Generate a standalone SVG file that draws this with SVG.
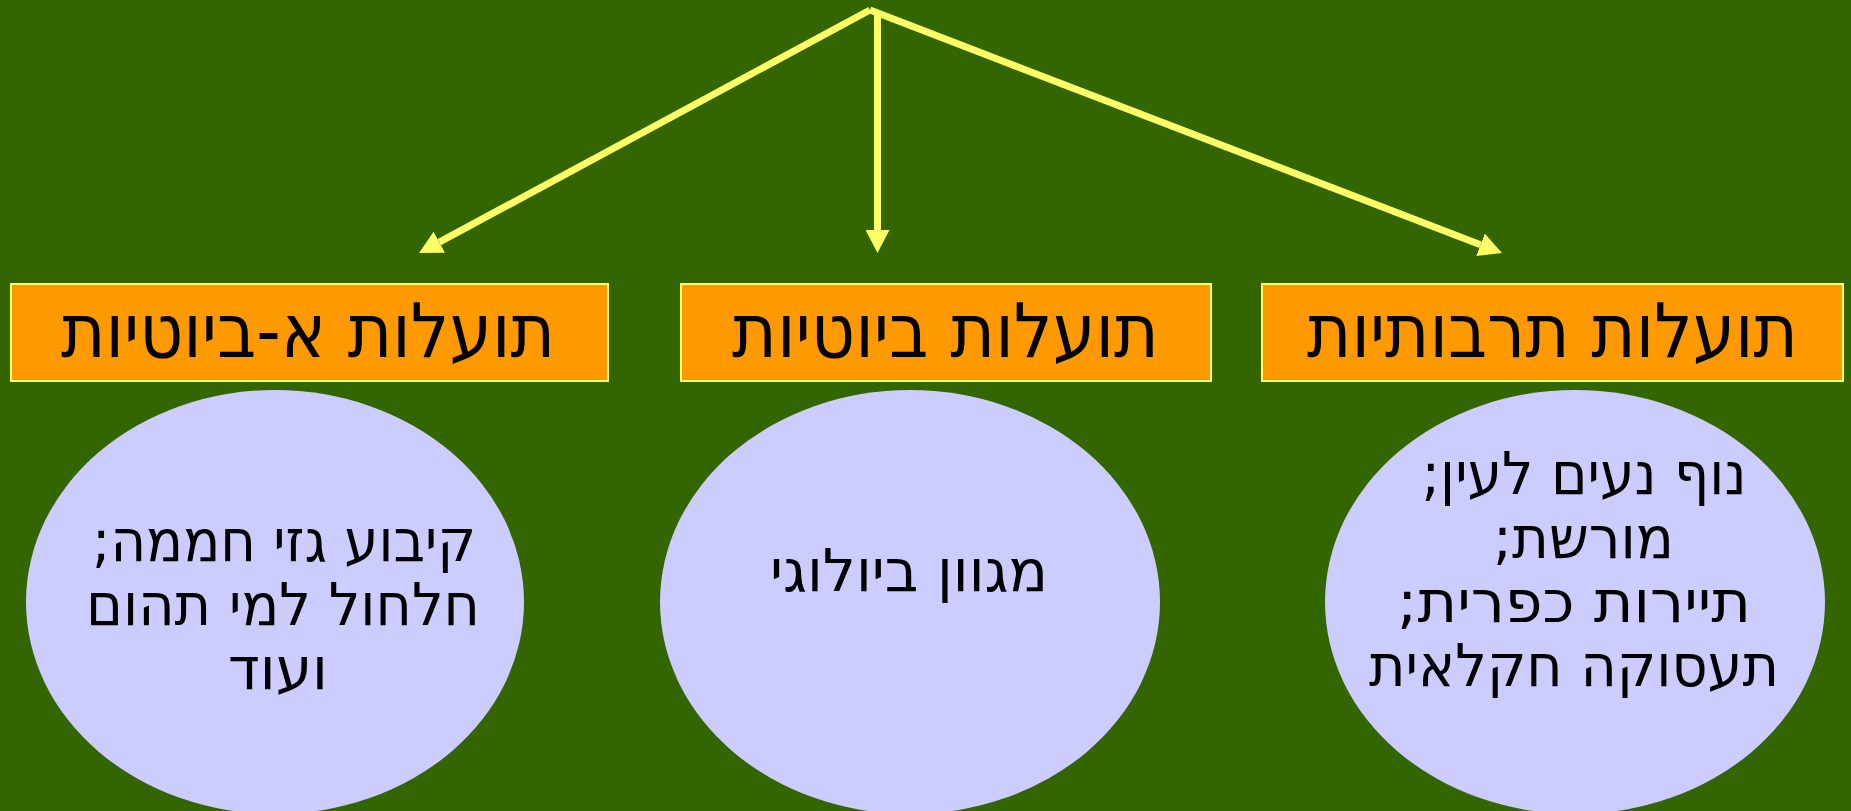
<svg xmlns="http://www.w3.org/2000/svg" width="1851" height="811" viewBox="0 0 1851 811">
<style>
.box{fill:#FF9900;stroke:#FFFF66;stroke-width:2}
.ell{fill:#CCCCFF}
.t{font-family:"DejaVu Sans",sans-serif;fill:#000;text-anchor:middle;direction:rtl}
.bt{font-size:75px}
.et{font-size:59px}
.con{stroke:#FFFF66;stroke-width:7;fill:none}
</style>
<defs>
<marker id="ah" viewBox="0 0 23 24" markerWidth="23" markerHeight="24" refX="0" refY="12" orient="auto" markerUnits="userSpaceOnUse">
<path d="M0,0 L23,12 L0,24 z" fill="#FFFF66"/>
</marker>
</defs>
<rect width="1851" height="811" fill="#336600"/>
<g id="connectors">
<line class="con" x1="870" y1="10" x2="439.3" y2="242.2" marker-end="url(#ah)"/>
<line class="con" x1="877.5" y1="12" x2="877.5" y2="230" marker-end="url(#ah)"/>
<line class="con" x1="870" y1="10" x2="1480.5" y2="244.8" marker-end="url(#ah)"/>
</g>
<g id="box-abiotic">
<rect class="box" x="11" y="284" width="597" height="97"/>
<text class="t bt" x="308" y="357" textLength="494" lengthAdjust="spacingAndGlyphs">תועלות א-ביוטיות</text>
</g>
<g id="box-biotic">
<rect class="box" x="681" y="284" width="530" height="97"/>
<text class="t bt" x="945.5" y="357" textLength="427" lengthAdjust="spacingAndGlyphs">תועלות ביוטיות</text>
</g>
<g id="box-cultural">
<rect class="box" x="1262" y="284" width="581" height="97"/>
<text class="t bt" x="1552.5" y="357" textLength="491" lengthAdjust="spacingAndGlyphs">תועלות תרבותיות</text>
</g>
<g id="ell-abiotic">
<ellipse class="ell" cx="275" cy="602" rx="249" ry="212"/>
<text class="t et" x="284" y="561" textLength="384" lengthAdjust="spacingAndGlyphs">קיבוע גזי חממה;</text>
<text class="t et" x="283" y="625" textLength="394" lengthAdjust="spacingAndGlyphs">חלחול למי תהום</text>
<text class="t et" x="278" y="689" textLength="100" lengthAdjust="spacingAndGlyphs">ועוד</text>
</g>
<g id="ell-biotic">
<ellipse class="ell" cx="910" cy="602" rx="250" ry="212"/>
<text class="t et" x="909" y="591" textLength="278" lengthAdjust="spacingAndGlyphs">מגוון ביולוגי</text>
</g>
<g id="ell-cultural">
<ellipse class="ell" cx="1575" cy="602" rx="250" ry="212"/>
<text class="t et" x="1584" y="494" textLength="325" lengthAdjust="spacingAndGlyphs">נוף נעים לעין;</text>
<text class="t et" x="1583.5" y="558" textLength="181" lengthAdjust="spacingAndGlyphs">מורשת;</text>
<text class="t et" x="1574" y="622" textLength="354" lengthAdjust="spacingAndGlyphs">תיירות כפרית;</text>
<text class="t et" x="1574" y="686" textLength="410" lengthAdjust="spacingAndGlyphs">תעסוקה חקלאית</text>
</g>
</svg>
